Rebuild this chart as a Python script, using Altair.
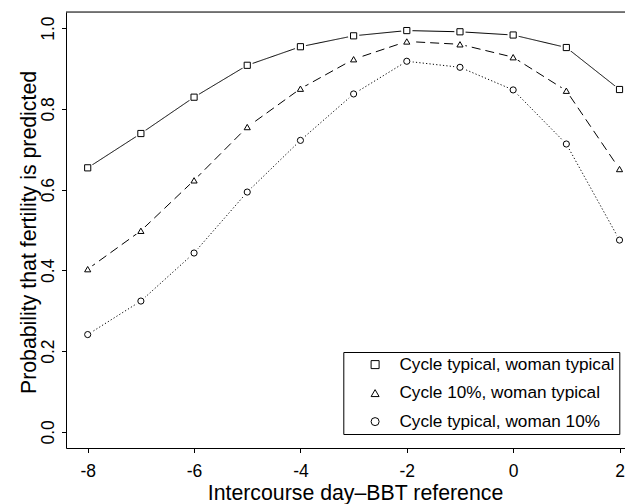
import altair as alt
import pandas as pd

days = [-8, -7, -6, -5, -4, -3, -2, -1, 0, 1, 2]
series_names = [
    "Cycle typical, woman typical",
    "Cycle 10%, woman typical",
    "Cycle typical, woman 10%",
]
typical = [0.654, 0.739, 0.829, 0.908, 0.954, 0.981, 0.994, 0.991, 0.983, 0.952, 0.848]
cycle10 = [0.403, 0.498, 0.623, 0.755, 0.850, 0.923, 0.967, 0.960, 0.928, 0.845, 0.651]
woman10 = [0.241, 0.324, 0.443, 0.594, 0.722, 0.837, 0.918, 0.903, 0.847, 0.713, 0.475]
x_ticks = [-8, -6, -4, -2, 0, 2]
y_ticks = [0.0, 0.2, 0.4, 0.6, 0.8, 1.0]
dashes = [[1, 0], [9, 5], [1.2, 2.2]]

rows = []
for name, vals in zip(series_names, [typical, cycle10, woman10]):
    for d, v in zip(days, vals):
        rows.append({"day": d, "prob": v, "series": name})
df = pd.DataFrame(rows)

FONT = "Liberation Sans"
W, H = 559, 436

x_enc = alt.X(
    "day:Q",
    scale=alt.Scale(domain=[-8.408, 2.103], nice=False, zero=False),
    axis=alt.Axis(
        values=x_ticks,
        labelExpr="'' + datum.value",
        title="Intercourse day\u2013BBT reference",
        grid=False,
        domainColor="black",
        tickColor="black",
        tickSize=4.5,
        labelFont=FONT,
        labelFontSize=17.5,
        labelColor="black",
        labelBaseline="alphabetic",
        labelPadding=23.5,
        labelFlush=False,
        labelOverlap=False,
        titleFont=FONT,
        titleFontSize=21.3,
        titleFontWeight="normal",
        titleColor="black",
        titleX=289,
        titleY=51.3,
        titleAlign="center",
        titleBaseline="alphabetic",
    ),
)
y_enc = alt.Y(
    "prob:Q",
    scale=alt.Scale(domain=[-0.04, 1.04], nice=False, zero=False),
    axis=alt.Axis(
        values=y_ticks,
        format=".1f",
        title="Probability that fertility is predicted",
        grid=False,
        domainColor="black",
        tickColor="black",
        tickSize=4.5,
        labelFont=FONT,
        labelFontSize=17.5,
        labelColor="black",
        labelAngle=270,
        labelAlign="center",
        labelBaseline="alphabetic",
        labelPadding=8.2,
        labelFlush=False,
        labelOverlap=False,
        titleFont=FONT,
        titleFontSize=21.3,
        titleFontWeight="normal",
        titleColor="black",
        titleAngle=270,
        titleX=-31,
        titleY=220,
        titleAlign="center",
        titleBaseline="alphabetic",
    ),
)

base = alt.Chart(df)

line_layers = []
for i, (name, dash) in enumerate(zip(series_names, dashes)):
    line_layers.append(
        base.transform_filter(alt.datum.series == name)
        .mark_line(color="black", strokeWidth=1, strokeDash=dash)
        .encode(x=x_enc if i == 0 else "day:Q", y=y_enc if i == 0 else "prob:Q")
    )

halos = base.mark_circle(color="white", opacity=1, size=130).encode(
    x="day:Q",
    y="prob:Q",
)

points = base.mark_point(filled=False, color="black", strokeWidth=1, opacity=1, size=38).encode(
    x="day:Q",
    y="prob:Q",
    shape=alt.Shape(
        "series:N",
        scale=alt.Scale(domain=series_names, range=["square", "triangle-up", "circle"]),
        legend=alt.Legend(
            title=None,
            orient="none",
            legendX=277.3,
            legendY=340,
            strokeColor="black",
            fillColor="white",
            padding=4,
            rowPadding=10.5,
            symbolSize=64,
            symbolOffset=19.2,
            labelOffset=15.7,
            symbolStrokeColor="black",
            symbolFillColor="white",
            symbolStrokeWidth=1,
            labelFont=FONT,
            labelFontSize=17.2,
            labelColor="black",
            labelLimit=400,
        ),
    ),
)

frame_top = alt.Chart(pd.DataFrame({"k": [0]})).mark_rule(color="black", strokeWidth=1).encode(
    x=alt.value(0), x2=alt.value(W), y=alt.value(0)
)

chart = (
    alt.layer(*line_layers, halos, points, frame_top)
    .properties(
        width=W,
        height=H,
        autosize=alt.AutoSizeParams(type="none"),
        padding={"left": 58, "top": 4, "right": 0, "bottom": 56},
    )
    .configure_view(stroke=None)
    .configure(font=FONT)
)

chart.save("out.html", embed_options={"renderer": "svg", "actions": False})
